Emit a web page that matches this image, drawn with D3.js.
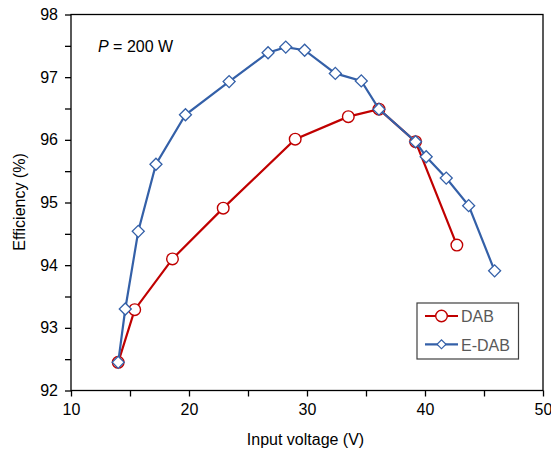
<!DOCTYPE html>
<html><head><meta charset="utf-8">
<script src="https://cdn.jsdelivr.net/npm/d3@7"></script>
<style>body{margin:0;background:#fff}svg{display:block}</style>
</head><body>
<svg id="c" width="551" height="453"></svg>
<script>
const dabX = [14.0, 15.4, 18.6, 22.9, 29.0, 33.5, 36.1, 39.2, 42.7];
const dabY = [92.45, 93.29, 94.10, 94.91, 96.01, 96.37, 96.49, 95.97, 94.32];
const edabX = [14.0, 14.6, 15.7, 17.2, 19.7, 23.4, 26.7, 28.2, 29.8, 32.4, 34.6, 36.1, 39.2, 40.1, 41.8, 43.7, 45.9];
const edabY = [92.45, 93.30, 94.54, 95.61, 96.40, 96.93, 97.39, 97.48, 97.43, 97.06, 96.94, 96.49, 95.97, 95.73, 95.39, 94.95, 93.91];
const xTicks = [10, 20, 30, 40, 50];
const yTicks = [92, 93, 94, 95, 96, 97, 98];

const svg = d3.select("#c");
const L = 71, R = 543, T = 14.5, B = 390.5;
const x = d3.scaleLinear().domain([10, 50]).range([L, R]);
const y = d3.scaleLinear().domain([92, 98]).range([B, T]);
const font = "Liberation Sans, Arial, sans-serif";
const red = "#C00000", blue = "#3460A8";

// frame
svg.append("rect").attr("x", L).attr("y", T).attr("width", R - L).attr("height", B - T)
  .attr("fill", "none").attr("stroke", "#000").attr("stroke-width", 1.3);

// axes
const xa = svg.append("g").attr("transform", `translate(0,${B})`)
  .call(d3.axisBottom(x).tickValues(xTicks).tickSize(6).tickPadding(7).tickFormat(d3.format("d")));
const xm = svg.append("g").attr("transform", `translate(0,${B})`)
  .call(d3.axisBottom(x).tickValues(d3.range(15, 50, 10)).tickSize(6).tickFormat(""));
const ya = svg.append("g").attr("transform", `translate(${L},0)`)
  .call(d3.axisLeft(y).tickValues(yTicks).tickSize(6).tickPadding(7).tickFormat(d3.format("d")));
const ym = svg.append("g").attr("transform", `translate(${L},0)`)
  .call(d3.axisLeft(y).tickValues(d3.range(92.5, 98, 1)).tickSize(6).tickFormat(""));
[xa, xm, ya, ym].forEach(g => {
  g.select(".domain").remove();
  g.selectAll("line").attr("stroke", "#000").attr("stroke-width", 1.3);
  g.selectAll("text").attr("font-family", font).attr("font-size", 16).attr("fill", "#000");
});

// labels
svg.append("text").attr("x", 305.5).attr("y", 445).attr("text-anchor", "middle")
  .attr("font-family", font).attr("font-size", 16).attr("fill", "#000").text("Input voltage (V)");
svg.append("text").attr("transform", `translate(25,202) rotate(-90)`).attr("text-anchor", "middle")
  .attr("font-family", font).attr("font-size", 16).attr("fill", "#000").text("Efficiency (%)");
const pt = svg.append("text").attr("x", 98).attr("y", 51.5).attr("font-family", font).attr("font-size", 16).attr("fill", "#000");
pt.append("tspan").attr("font-style", "italic").text("P");
pt.append("tspan").text(" = 200 W");

const line = d3.line().x(d => x(d[0])).y(d => y(d[1]));
const dab = dabX.map((v, i) => [v, dabY[i]]);
const edab = edabX.map((v, i) => [v, edabY[i]]);

svg.append("path").datum(dab).attr("d", line).attr("fill", "none").attr("stroke", red).attr("stroke-width", 2.2);
svg.selectAll(".dm").data(dab).enter().append("circle")
  .attr("cx", d => x(d[0])).attr("cy", d => y(d[1])).attr("r", 5.8)
  .attr("fill", "#fff").attr("stroke", red).attr("stroke-width", 1.4);

svg.append("path").datum(edab).attr("d", line).attr("fill", "none").attr("stroke", blue).attr("stroke-width", 2.2);
const diamond = d3.symbol().type(d3.symbolSquare).size(72);
svg.selectAll(".em").data(edab).enter().append("path")
  .attr("d", diamond).attr("transform", d => `translate(${x(d[0])},${y(d[1])}) rotate(45)`)
  .attr("fill", "#fff").attr("stroke", blue).attr("stroke-width", 1.3);

// legend
const lg = svg.append("g");
lg.append("rect").attr("x", 417).attr("y", 303).attr("width", 101.5).attr("height", 56)
  .attr("fill", "#fff").attr("stroke", "#404040").attr("stroke-width", 1.2);
const items = [{ name: "DAB", c: red, t: "c" }, { name: "E-DAB", c: blue, t: "d" }];
items.forEach((it, i) => {
  const cy = 316 + i * 28.3;
  lg.append("line").attr("x1", 425).attr("x2", 458).attr("y1", cy).attr("y2", cy).attr("stroke", it.c).attr("stroke-width", 2.2);
  if (it.t === "c") lg.append("circle").attr("cx", 441.5).attr("cy", cy).attr("r", 5.8).attr("fill", "#fff").attr("stroke", it.c).attr("stroke-width", 1.4);
  else lg.append("path").attr("d", d3.symbol().type(d3.symbolSquare).size(40)()).attr("transform", `translate(441.5,${cy}) rotate(45)`).attr("fill", "#fff").attr("stroke", it.c).attr("stroke-width", 1.2);
  lg.append("text").attr("x", 461).attr("y", cy + 6.2).attr("font-family", font).attr("font-size", 16).attr("fill", "#595959").text(it.name);
});
</script>
</body></html>
